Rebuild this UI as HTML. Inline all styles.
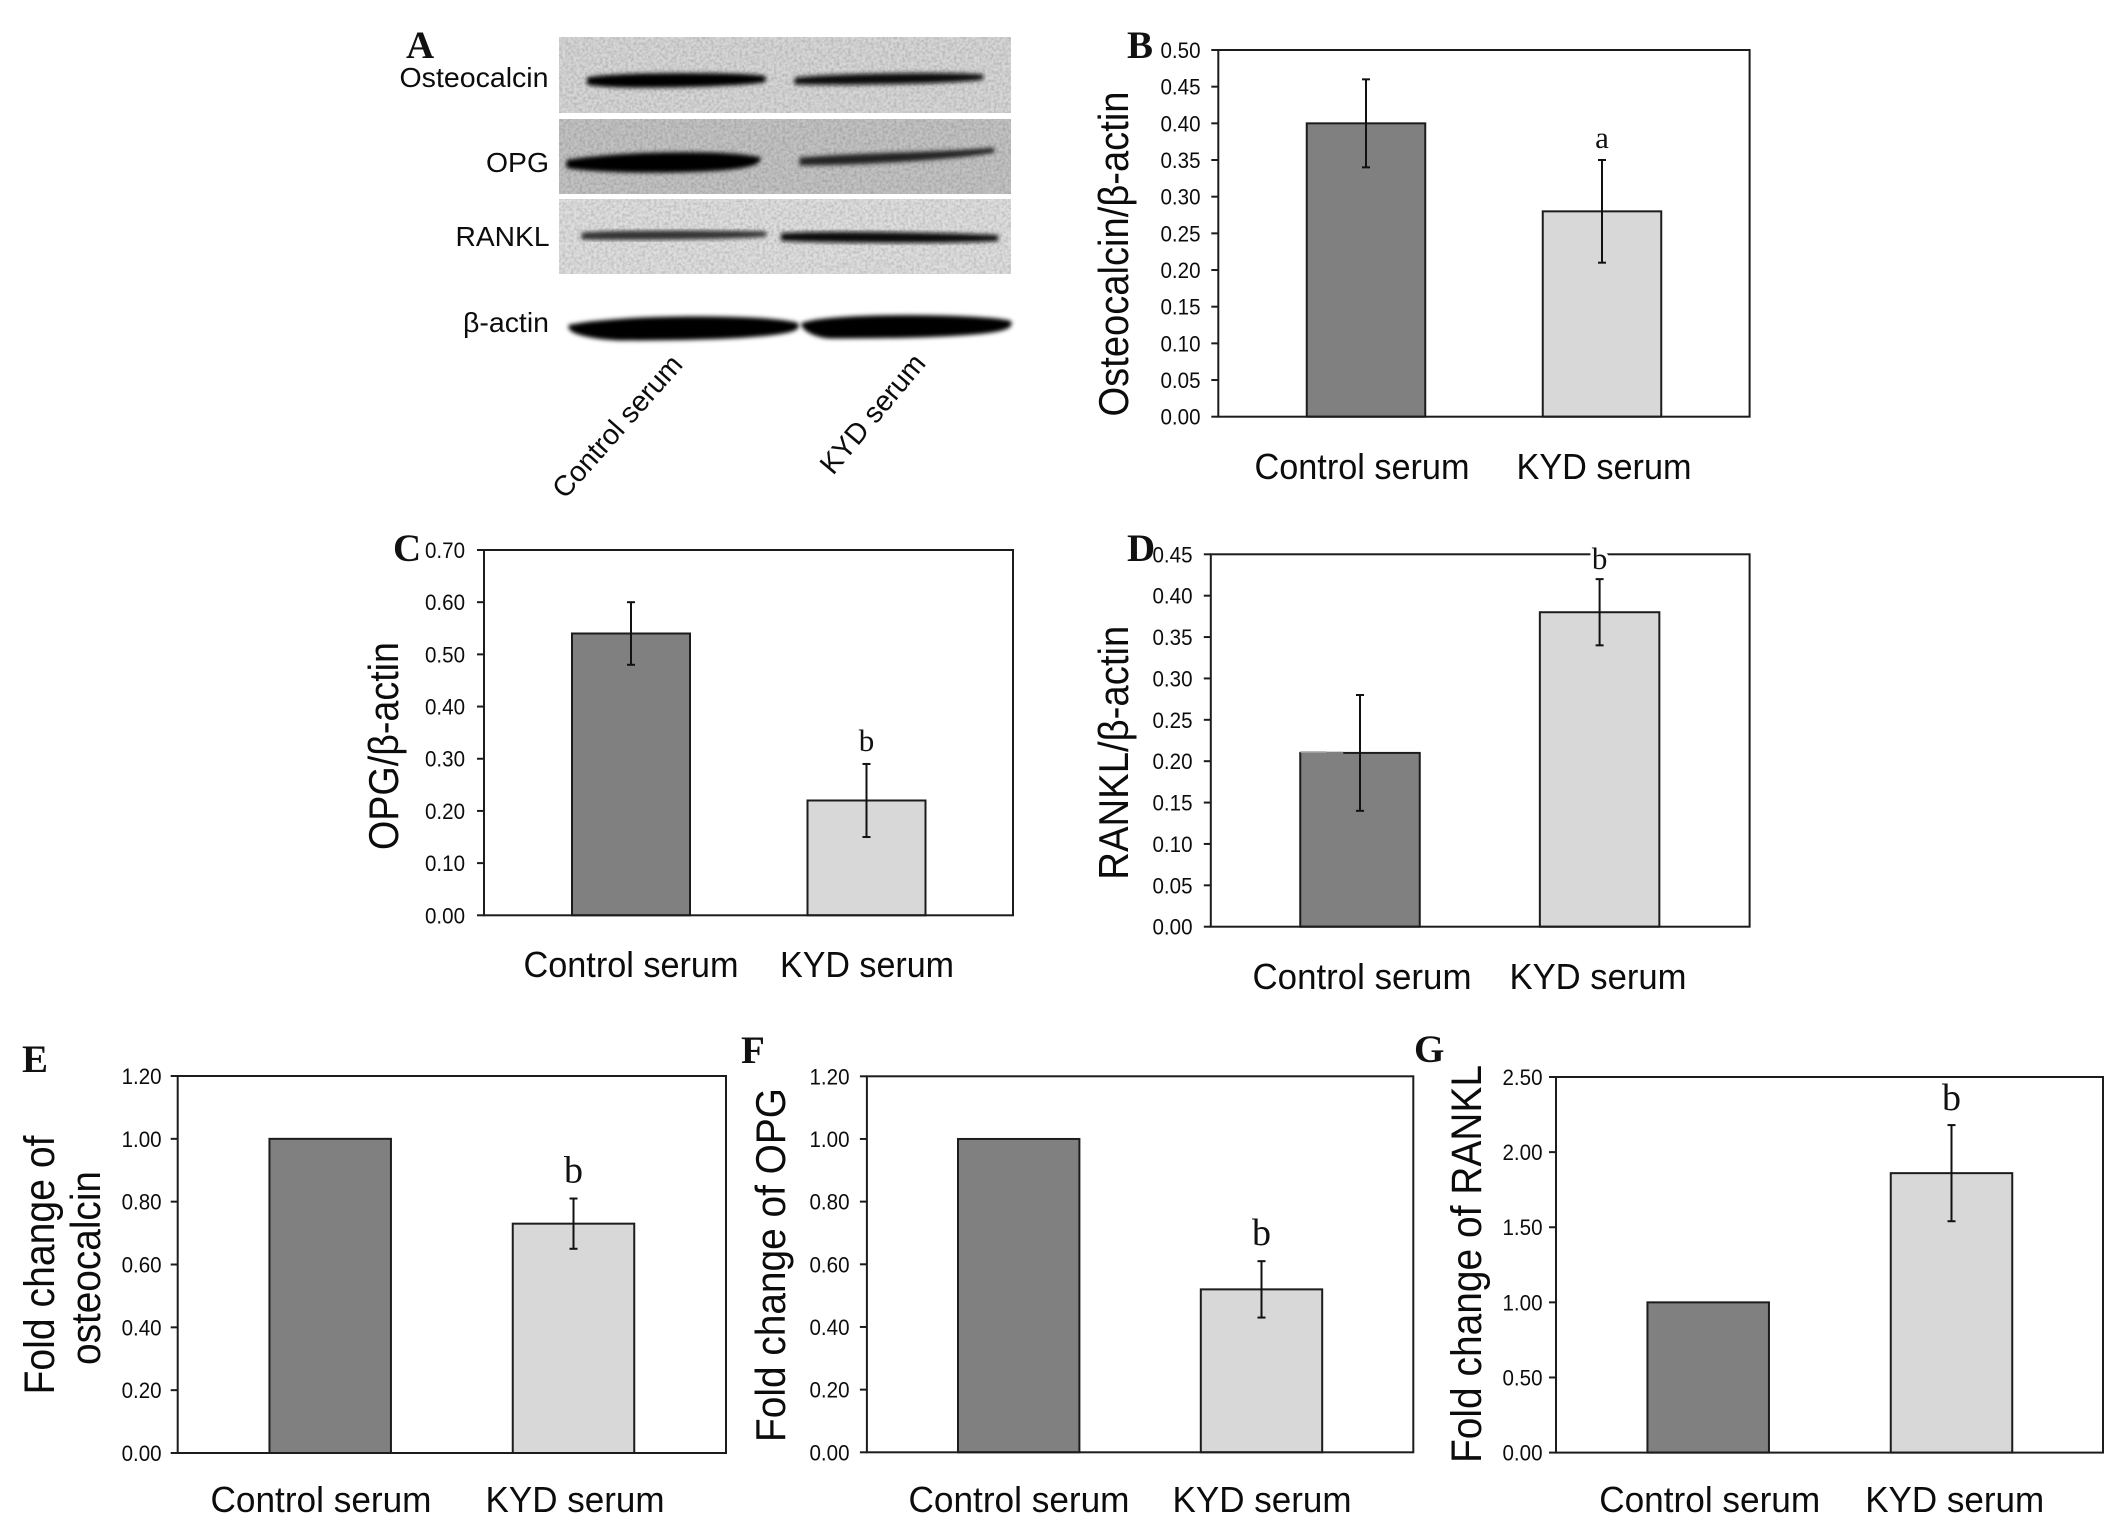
<!DOCTYPE html>
<html lang="en">
<head>
<meta charset="utf-8">
<title>Osteocalcin, OPG and RANKL expression</title>
<style>
  html, body { margin: 0; padding: 0; background: #fff; }
  svg { display: block; }
  .sans { font-family: "Liberation Sans", Arial, sans-serif; fill: #0c0c0c; }
  .serif { font-family: "Liberation Serif", "Times New Roman", serif; fill: #111; }
</style>
</head>
<body>
<svg id="figure" xmlns="http://www.w3.org/2000/svg" width="2126" height="1526" viewBox="0 0 2126 1526">
  <defs>
    <filter id="blur-band" x="-10%" y="-100%" width="120%" height="300%"><feGaussianBlur stdDeviation="2.2"/></filter>
    <filter id="blot-grain" x="0" y="0" width="100%" height="100%">
      <feTurbulence type="fractalNoise" baseFrequency="0.35" numOctaves="2" seed="4"/>
      <feColorMatrix type="matrix" values="0 0 0 0 0  0 0 0 0 0  0 0 0 0 0  0.9 0 0 0 -0.32"/>
    </filter>
  </defs>
  <rect width="2126" height="1526" fill="#fff"/>

  <g id="panel-a">
    <text class="serif" font-weight="bold" font-size="39" x="406" y="58">A</text>

    <rect x="559" y="37" width="452" height="76" fill="#d6d6d6"/>
    <rect x="559" y="119" width="452" height="75" fill="#c2c2c2"/>
    <rect x="559" y="199" width="452" height="75" fill="#dedede"/>
    <rect x="559" y="37" width="452" height="237" filter="url(#blot-grain)" opacity="0.35"/>
    <rect x="559" y="113" width="452" height="6" fill="#fff"/>
    <rect x="559" y="194" width="452" height="5" fill="#fff"/>

    <path d="M590 80 C620 75 740 75 765 79 C740 84 620 87 590 82Z" fill="#000" stroke="#000" stroke-width="6" filter="url(#blur-band)"/>
    <path d="M797 80 C830 76 950 74 983 77 C950 82 830 83 797 82Z" fill="#000" stroke="#111" stroke-width="5" filter="url(#blur-band)"/>
    <path d="M570 163 C620 155 720 153 756 160 C750 170 620 172 570 165Z" fill="#000" stroke="#000" stroke-width="7" filter="url(#blur-band)"/>
    <path d="M802 160 C850 155 950 155 994 150 C950 158 850 163 802 163Z" fill="#111" stroke="#222" stroke-width="5" filter="url(#blur-band)"/>
    <path d="M584 235 C620 232 740 233 766 234 C740 237 620 238 584 237Z" fill="#222" stroke="#333" stroke-width="5" filter="url(#blur-band)"/>
    <path d="M784 236 C830 233 950 236 998 238 C950 241 830 240 784 238Z" fill="#111" stroke="#111" stroke-width="6" filter="url(#blur-band)"/>
    <path d="M571 327 C620 317 760 316 796 325 C800 330 770 338 620 338 C590 337 571 331 571 327Z" fill="#000" stroke="#000" stroke-width="5" filter="url(#blur-band)"/>
    <path d="M804 325 C830 315 980 316 1009 323 C1011 329 980 336 830 336 C815 335 806 329 804 325Z" fill="#000" stroke="#000" stroke-width="5" filter="url(#blur-band)"/>

    <text class="sans" font-size="28" x="399.5" y="87" textLength="149" lengthAdjust="spacingAndGlyphs">Osteocalcin</text>
    <text class="sans" font-size="28" x="486" y="172" textLength="63" lengthAdjust="spacingAndGlyphs">OPG</text>
    <text class="sans" font-size="28" x="455.5" y="246" textLength="94" lengthAdjust="spacingAndGlyphs">RANKL</text>
    <text class="sans" font-size="28" x="463" y="332" textLength="86" lengthAdjust="spacingAndGlyphs">β-actin</text>
    <text class="sans" font-size="28.6" transform="translate(565 500) rotate(-48.5)">Control serum</text>
    <text class="sans" font-size="28.6" transform="translate(833 476) rotate(-50)">KYD serum</text>
  </g>
</svg>

<script>
// ---- Chart data ----
const categories = ['Control serum', 'KYD serum'];

const ticksB = ['0.00', '0.05', '0.10', '0.15', '0.20', '0.25', '0.30', '0.35', '0.40', '0.45', '0.50'];
const valuesB = [0.40, 0.28];
const errorsB = [0.06, 0.07];
const markersB = ['', 'a'];

const ticksC = ['0.00', '0.10', '0.20', '0.30', '0.40', '0.50', '0.60', '0.70'];
const valuesC = [0.54, 0.22];
const errorsC = [0.06, 0.07];
const markersC = ['', 'b'];

const ticksD = ['0.00', '0.05', '0.10', '0.15', '0.20', '0.25', '0.30', '0.35', '0.40', '0.45'];
const valuesD = [0.21, 0.38];
const errorsD = [0.07, 0.04];
const markersD = ['', 'b'];

const ticksE = ['0.00', '0.20', '0.40', '0.60', '0.80', '1.00', '1.20'];
const valuesE = [1.00, 0.73];
const errorsE = [0, 0.08];
const markersE = ['', 'b'];

const ticksF = ['0.00', '0.20', '0.40', '0.60', '0.80', '1.00', '1.20'];
const valuesF = [1.00, 0.52];
const errorsF = [0, 0.09];
const markersF = ['', 'b'];

const ticksG = ['0.00', '0.50', '1.00', '1.50', '2.00', '2.50'];
const valuesG = [1.00, 1.86];
const errorsG = [0, 0.32];
const markersG = ['', 'b'];

// ---- Layout only (no data values) ----
const barColors = ['#808080', '#d8d8d8'];
const panels = [
  { id: 'b', ticks: ticksB, values: valuesB, errors: errorsB, markers: markersB,
    left: 1218.3, right: 1749.6, top: 50, bottom: 416.7, barX: [1366, 1602], barW: 118.5,
    labelX: [1362, 1604], labelY: 479, labelLens: [215, 175], labelSize: 36,
    tickRight: 1200.5, letter: { text: 'B', x: 1127, y: 58 },
    titles: [{ text: 'Osteocalcin/β-actin', x: 1128, y: 254, len: 325, size: 42 }],
    markerGap: 12, markerSize: 31, cut: false, glitch: false },
  { id: 'c', ticks: ticksC, values: valuesC, errors: errorsC, markers: markersC,
    left: 484, right: 1013, top: 550, bottom: 915.3, barX: [631, 866.5], barW: 118,
    labelX: [631, 867], labelY: 977, labelLens: [215, 174], labelSize: 36,
    tickRight: 465, letter: { text: 'C', x: 393, y: 561 },
    titles: [{ text: 'OPG/β-actin', x: 398, y: 746, len: 208, size: 42 }],
    markerGap: 13, markerSize: 31, cut: false, glitch: false },
  { id: 'd', ticks: ticksD, values: valuesD, errors: errorsD, markers: markersD,
    left: 1210.8, right: 1749.6, top: 554.3, bottom: 926.7, barX: [1360, 1599.6], barW: 119.5,
    labelX: [1362, 1598], labelY: 989, labelLens: [219, 177], labelSize: 36,
    tickRight: 1192.5, letter: { text: 'D', x: 1127, y: 561 },
    titles: [{ text: 'RANKL/β-actin', x: 1128, y: 752.7, len: 254, size: 42 }],
    markerGap: 10, markerSize: 31, cut: true, glitch: true },
  { id: 'e', ticks: ticksE, values: valuesE, errors: errorsE, markers: markersE,
    left: 177.7, right: 726, top: 1076, bottom: 1453, barX: [330.2, 573.5], barW: 121.5,
    labelX: [321, 575], labelY: 1512, labelLens: [221, 179], labelSize: 36,
    tickRight: 161.6, letter: { text: 'E', x: 22, y: 1072 },
    titles: [{ text: 'Fold change of', x: 54, y: 1265, len: 259, size: 43 },
             { text: 'osteocalcin', x: 100, y: 1268, len: 194, size: 42 }],
    markerGap: 16, markerSize: 38, cut: false, glitch: false },
  { id: 'f', ticks: ticksF, values: valuesF, errors: errorsF, markers: markersF,
    left: 866.9, right: 1413.3, top: 1076.3, bottom: 1452.3, barX: [1018.7, 1261.5], barW: 121.4,
    labelX: [1019, 1262], labelY: 1512, labelLens: [221, 179], labelSize: 36,
    tickRight: 849.5, letter: { text: 'F', x: 741, y: 1063 },
    titles: [{ text: 'Fold change of OPG', x: 785, y: 1265, len: 354, size: 42 }],
    markerGap: 16, markerSize: 38, cut: false, glitch: false },
  { id: 'g', ticks: ticksG, values: valuesG, errors: errorsG, markers: markersG,
    left: 1556, right: 2103, top: 1077, bottom: 1452.6, barX: [1708.2, 1951.5], barW: 121.5,
    labelX: [1709.7, 1954.7], labelY: 1512, labelLens: [221, 179], labelSize: 36,
    tickRight: 1542.5, letter: { text: 'G', x: 1414, y: 1062 },
    titles: [{ text: 'Fold change of RANKL', x: 1481, y: 1264, len: 398, size: 43 }],
    markerGap: 15, markerSize: 38, cut: false, glitch: false }
];

const SVG_NS = 'http://www.w3.org/2000/svg';
const figure = document.getElementById('figure');
const INK = '#1c1c1c';

function shape(parent, tag, attrs) {
  const node = document.createElementNS(SVG_NS, tag);
  for (const key in attrs) node.setAttribute(key, attrs[key]);
  parent.appendChild(node);
  return node;
}
function yAxisScale(p) {
  const max = parseFloat(p.ticks[p.ticks.length - 1]);
  return function (v) { return p.bottom - (v / max) * (p.bottom - p.top); };
}
function xAxisScale(p) {
  return function (i) { return p.barX[i]; };
}

panels.forEach(function (p) {
  const y = yAxisScale(p);
  const x = xAxisScale(p);

  const g = shape(figure, 'g', {});
  
  

  const letter = shape(g, 'text', { class: 'serif', 'font-weight': 'bold', 'font-size': 39, x: p.letter.x, y: p.letter.y });
  letter.textContent = p.letter.text;
  
  

  // Bars
  p.values.forEach(function (value, i) {
    const bar = shape(g, 'rect', {
      x: x(i) - p.barW / 2, y: y(value), width: p.barW, height: p.bottom - y(value),
      fill: barColors[i], stroke: INK, 'stroke-width': 2
    });
    
    
  });

  // Scan artefact on the control bar's top edge
  if (p.glitch) {
    const barLeft = x(0) - p.barW / 2;
    const patch = shape(g, 'line', {
      x1: barLeft + 1, x2: barLeft + 43, y1: y(p.values[0]), y2: y(p.values[0]),
      stroke: barColors[0], 'stroke-width': 2.4
    });
    
    
    const sliver = shape(g, 'line', {
      x1: barLeft, x2: barLeft + 26, y1: y(p.values[0]) - 1, y2: y(p.values[0]) - 1,
      stroke: '#b0b0b0', 'stroke-width': 1.5
    });
    
    
  }

  // Plot frame
  const frame = shape(g, 'rect', {
    x: p.left, y: p.top, width: p.right - p.left, height: p.bottom - p.top,
    fill: 'none', stroke: INK, 'stroke-width': 2
  });
  
  

  // Y ticks and tick labels
  p.ticks.forEach(function (label) {
    const v = parseFloat(label);
    const tick = shape(g, 'line', { x1: p.left - 7, x2: p.left, y1: y(v), y2: y(v), stroke: INK, 'stroke-width': 2 });
    
    
    const text = shape(g, 'text', {
      class: 'sans', 'font-size': 22, 'text-anchor': 'end',
      x: p.tickRight, y: y(v) + 8, textLength: 40, lengthAdjust: 'spacingAndGlyphs'
    });
    text.textContent = label;
    
    
  });

  // Error bars and significance markers
  p.errors.forEach(function (err, i) {
    if (err > 0) {
      const hi = y(p.values[i] + err);
      const lo = y(p.values[i] - err);
      const stem = shape(g, 'line', { x1: x(i), x2: x(i), y1: hi, y2: lo, stroke: '#111', 'stroke-width': 2 });
      
      
      const capHi = shape(g, 'line', { x1: x(i) - 4, x2: x(i) + 4, y1: hi, y2: hi, stroke: '#111', 'stroke-width': 2 });
      
      
      const capLo = shape(g, 'line', { x1: x(i) - 4, x2: x(i) + 4, y1: lo, y2: lo, stroke: '#111', 'stroke-width': 2 });
      
      
    }
    if (p.markers[i]) {
      const top = y(p.values[i] + err);
      const mark = shape(g, 'text', {
        class: 'serif', 'font-size': p.markerSize, 'text-anchor': 'middle',
        x: x(i), y: top - p.markerGap
      });
      if (p.cut) {
        mark.setAttribute('stroke', '#fff');
        mark.setAttribute('stroke-width', '7');
        mark.setAttribute('paint-order', 'stroke');
      }
      mark.textContent = p.markers[i];
      
      
    }
  });

  // Category labels
  categories.forEach(function (name, i) {
    const label = shape(g, 'text', {
      class: 'sans', 'font-size': p.labelSize, 'text-anchor': 'middle',
      x: p.labelX[i], y: p.labelY, textLength: p.labelLens[i], lengthAdjust: 'spacingAndGlyphs'
    });
    label.textContent = name;
    
    
  });

  // Y axis titles
  p.titles.forEach(function (t) {
    const title = shape(g, 'text', {
      class: 'sans', 'font-size': t.size, 'text-anchor': 'middle',
      transform: 'translate(' + t.x + ' ' + t.y + ') rotate(-90)',
      textLength: t.len, lengthAdjust: 'spacingAndGlyphs'
    });
    title.textContent = t.text;
    
    
  });
});
</script>
</body>
</html>
